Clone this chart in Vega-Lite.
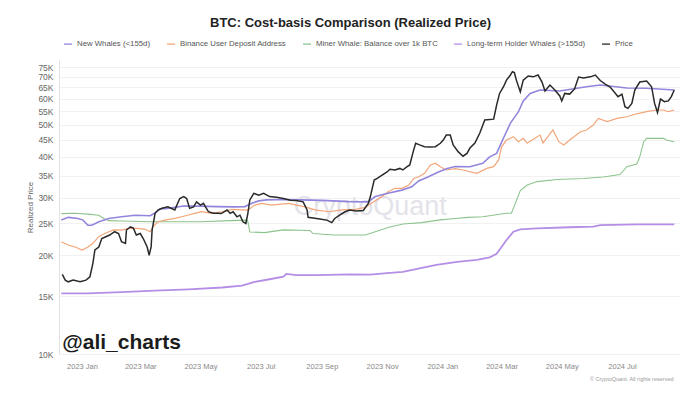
{
  "$schema": "https://vega.github.io/schema/vega-lite/v6.json",
  "width": 621,
  "height": 294,
  "autosize": {"type": "none"},
  "padding": {"left": 59, "top": 60, "right": 19, "bottom": 44},
  "background": "white",
  "title": {"text": "BTC: Cost-basis Comparison (Realized Price)", "anchor": "middle", "dx": -19, "fontSize": 13, "fontWeight": "bold", "color": "#222222", "offset": 9},
  "config": {
    "font": "Liberation Sans",
    "view": {"stroke": null},
    "legend": {"orient": "none", "legendX": 4, "legendY": -21, "direction": "horizontal", "symbolType": "stroke", "symbolStrokeWidth": 1.3, "symbolSize": 64, "labelFontSize": 7.8, "labelColor": "#555555", "columnPadding": 13, "labelOffset": 4}
  },
  "datasets": {
    "price": [
      {"date":"2022-12-12","value":17500},{"date":"2022-12-15","value":16800},{"date":"2022-12-18","value":16600},{"date":"2022-12-23","value":16800},{"date":"2022-12-30","value":16600},
      {"date":"2023-01-05","value":16800},{"date":"2023-01-09","value":17200},{"date":"2023-01-12","value":18900},{"date":"2023-01-14","value":20750},{"date":"2023-01-18","value":21200},
      {"date":"2023-01-21","value":22500},{"date":"2023-01-24","value":22700},{"date":"2023-01-29","value":23050},{"date":"2023-02-03","value":23600},{"date":"2023-02-07","value":23300},
      {"date":"2023-02-10","value":22000},{"date":"2023-02-14","value":21750},{"date":"2023-02-15","value":23880},{"date":"2023-02-19","value":24400},{"date":"2023-02-22","value":24200},
      {"date":"2023-02-25","value":23050},{"date":"2023-03-01","value":23300},{"date":"2023-03-04","value":22500},{"date":"2023-03-08","value":21200},{"date":"2023-03-10","value":20000},
      {"date":"2023-03-12","value":21200},{"date":"2023-03-13","value":23880},{"date":"2023-03-16","value":26850},{"date":"2023-03-19","value":27480},{"date":"2023-03-23","value":27810},
      {"date":"2023-03-29","value":28100},{"date":"2023-04-05","value":27500},{"date":"2023-04-10","value":29800},{"date":"2023-04-14","value":30200},{"date":"2023-04-17","value":29800},
      {"date":"2023-04-20","value":27800},{"date":"2023-04-24","value":28100},{"date":"2023-04-27","value":29100},{"date":"2023-05-01","value":28450},{"date":"2023-05-04","value":28800},
      {"date":"2023-05-09","value":27150},{"date":"2023-05-14","value":26850},{"date":"2023-05-19","value":26850},{"date":"2023-05-22","value":26800},{"date":"2023-05-28","value":27480},
      {"date":"2023-05-31","value":26850},{"date":"2023-06-03","value":27150},{"date":"2023-06-07","value":26200},{"date":"2023-06-10","value":26500},{"date":"2023-06-13","value":25300},
      {"date":"2023-06-16","value":25000},{"date":"2023-06-18","value":26850},{"date":"2023-06-20","value":29500},{"date":"2023-06-24","value":30900},{"date":"2023-06-29","value":30500},
      {"date":"2023-07-04","value":30900},{"date":"2023-07-10","value":30200},{"date":"2023-07-17","value":30050},{"date":"2023-07-24","value":29800},{"date":"2023-07-31","value":29450},
      {"date":"2023-08-06","value":29400},{"date":"2023-08-13","value":29100},{"date":"2023-08-17","value":27500},{"date":"2023-08-18","value":26100},{"date":"2023-08-23","value":26000},
      {"date":"2023-08-30","value":25800},{"date":"2023-09-06","value":25600},{"date":"2023-09-11","value":25150},{"date":"2023-09-14","value":25900},{"date":"2023-09-19","value":26500},
      {"date":"2023-09-24","value":27100},{"date":"2023-09-29","value":27480},{"date":"2023-10-06","value":27300},{"date":"2023-10-13","value":27400},{"date":"2023-10-18","value":28800},
      {"date":"2023-10-20","value":30100},{"date":"2023-10-22","value":32000},{"date":"2023-10-24","value":33900},{"date":"2023-10-27","value":34300},{"date":"2023-11-01","value":35100},
      {"date":"2023-11-06","value":35900},{"date":"2023-11-09","value":36600},{"date":"2023-11-14","value":36400},{"date":"2023-11-19","value":36800},{"date":"2023-11-22","value":36400},
      {"date":"2023-11-26","value":37200},{"date":"2023-11-29","value":37700},{"date":"2023-12-03","value":41900},{"date":"2023-12-05","value":43900},{"date":"2023-12-09","value":43400},
      {"date":"2023-12-14","value":42850},{"date":"2023-12-19","value":42750},{"date":"2023-12-25","value":42850},{"date":"2023-12-30","value":43900},{"date":"2024-01-02","value":44900},
      {"date":"2024-01-05","value":46500},{"date":"2024-01-09","value":46500},{"date":"2024-01-12","value":43400},{"date":"2024-01-17","value":41400},{"date":"2024-01-22","value":40100},
      {"date":"2024-01-26","value":40900},{"date":"2024-01-29","value":42450},{"date":"2024-02-03","value":44000},{"date":"2024-02-08","value":47200},{"date":"2024-02-13","value":51700},
      {"date":"2024-02-22","value":52000},{"date":"2024-02-25","value":57400},{"date":"2024-02-28","value":62300},{"date":"2024-03-03","value":65300},{"date":"2024-03-06","value":68400},
      {"date":"2024-03-10","value":70900},{"date":"2024-03-12","value":72550},{"date":"2024-03-14","value":72100},{"date":"2024-03-16","value":68400},{"date":"2024-03-20","value":63000},
      {"date":"2024-03-23","value":68400},{"date":"2024-03-28","value":70400},{"date":"2024-04-02","value":70000},{"date":"2024-04-07","value":70900},{"date":"2024-04-11","value":67500},
      {"date":"2024-04-14","value":63400},{"date":"2024-04-19","value":66100},{"date":"2024-04-24","value":63800},{"date":"2024-04-29","value":61200},{"date":"2024-05-01","value":59100},
      {"date":"2024-05-04","value":62300},{"date":"2024-05-09","value":62000},{"date":"2024-05-14","value":64300},{"date":"2024-05-18","value":69900},{"date":"2024-05-23","value":69400},
      {"date":"2024-05-30","value":70000},{"date":"2024-06-04","value":70900},{"date":"2024-06-09","value":68200},{"date":"2024-06-14","value":66550},{"date":"2024-06-19","value":65150},
      {"date":"2024-06-24","value":62500},{"date":"2024-06-27","value":60900},{"date":"2024-07-01","value":62000},{"date":"2024-07-04","value":56750},{"date":"2024-07-07","value":56100},
      {"date":"2024-07-11","value":58100},{"date":"2024-07-14","value":63800},{"date":"2024-07-19","value":67500},{"date":"2024-07-26","value":68000},{"date":"2024-07-31","value":65300},
      {"date":"2024-08-03","value":58200},{"date":"2024-08-06","value":54500},{"date":"2024-08-09","value":59900},{"date":"2024-08-13","value":58800},{"date":"2024-08-17","value":59100},
      {"date":"2024-08-20","value":60900},{"date":"2024-08-23","value":63800}
    ],
    "newWhales": [
      {"date":"2022-12-11","value":25600},{"date":"2022-12-18","value":26100},{"date":"2022-12-28","value":25900},{"date":"2023-01-02","value":25600},{"date":"2023-01-07","value":24700},
      {"date":"2023-01-11","value":24700},{"date":"2023-01-18","value":25300},{"date":"2023-01-28","value":25900},{"date":"2023-02-10","value":26200},{"date":"2023-02-24","value":26500},
      {"date":"2023-03-11","value":26400},{"date":"2023-03-16","value":26900},{"date":"2023-03-21","value":27700},{"date":"2023-03-29","value":27800},{"date":"2023-04-14","value":28250},
      {"date":"2023-05-01","value":28250},{"date":"2023-05-17","value":28150},{"date":"2023-06-05","value":28100},{"date":"2023-06-15","value":28150},{"date":"2023-06-22","value":28800},
      {"date":"2023-06-29","value":29300},{"date":"2023-07-07","value":29500},{"date":"2023-07-24","value":29600},{"date":"2023-08-10","value":29500},{"date":"2023-09-01","value":29400},
      {"date":"2023-09-29","value":29150},{"date":"2023-10-18","value":29100},{"date":"2023-10-25","value":30200},{"date":"2023-11-07","value":30900},{"date":"2023-11-21","value":31600},
      {"date":"2023-12-01","value":32350},{"date":"2023-12-08","value":33700},{"date":"2023-12-18","value":34700},{"date":"2023-12-28","value":35900},{"date":"2024-01-06","value":36800},
      {"date":"2024-01-14","value":37300},{"date":"2024-01-29","value":37250},{"date":"2024-02-11","value":38150},{"date":"2024-02-18","value":39900},{"date":"2024-02-25","value":40900},
      {"date":"2024-03-03","value":45550},{"date":"2024-03-10","value":50600},{"date":"2024-03-18","value":54700},{"date":"2024-03-23","value":59100},{"date":"2024-03-30","value":62300},
      {"date":"2024-04-09","value":63800},{"date":"2024-04-29","value":63400},{"date":"2024-05-26","value":65300},{"date":"2024-06-09","value":66100},{"date":"2024-07-06","value":64700},
      {"date":"2024-07-26","value":64600},{"date":"2024-08-23","value":63800}
    ],
    "binance": [
      {"date":"2022-12-11","value":22000},{"date":"2022-12-18","value":21500},{"date":"2022-12-25","value":21200},{"date":"2023-01-01","value":20750},{"date":"2023-01-07","value":21200},
      {"date":"2023-01-12","value":21750},{"date":"2023-01-18","value":22800},{"date":"2023-01-24","value":23300},{"date":"2023-02-02","value":23900},{"date":"2023-02-10","value":23850},
      {"date":"2023-02-17","value":24150},{"date":"2023-02-27","value":24150},{"date":"2023-03-06","value":24000},{"date":"2023-03-11","value":23600},{"date":"2023-03-14","value":24450},
      {"date":"2023-03-19","value":25300},{"date":"2023-03-26","value":25600},{"date":"2023-04-05","value":25900},{"date":"2023-04-15","value":26350},{"date":"2023-04-25","value":26850},
      {"date":"2023-05-02","value":27150},{"date":"2023-05-12","value":26850},{"date":"2023-05-23","value":27150},{"date":"2023-06-02","value":27600},{"date":"2023-06-12","value":27500},
      {"date":"2023-06-18","value":27450},{"date":"2023-06-25","value":28450},{"date":"2023-07-02","value":28800},{"date":"2023-07-12","value":28450},{"date":"2023-07-29","value":28800},
      {"date":"2023-08-15","value":28100},{"date":"2023-08-25","value":27500},{"date":"2023-09-08","value":27150},{"date":"2023-09-21","value":27500},{"date":"2023-10-05","value":27600},
      {"date":"2023-10-15","value":28000},{"date":"2023-10-21","value":28800},{"date":"2023-11-01","value":30200},{"date":"2023-11-07","value":31250},{"date":"2023-11-14","value":32000},
      {"date":"2023-11-21","value":32000},{"date":"2023-11-28","value":32750},{"date":"2023-12-03","value":34300},{"date":"2023-12-08","value":34700},{"date":"2023-12-14","value":35550},
      {"date":"2023-12-20","value":37700},{"date":"2023-12-25","value":38150},{"date":"2023-12-30","value":37250},{"date":"2024-01-05","value":36400},{"date":"2024-01-14","value":36750},
      {"date":"2024-01-22","value":36400},{"date":"2024-02-05","value":35550},{"date":"2024-02-15","value":36800},{"date":"2024-02-22","value":37250},{"date":"2024-02-27","value":39000},
      {"date":"2024-03-01","value":42750},{"date":"2024-03-06","value":44900},{"date":"2024-03-13","value":46000},{"date":"2024-03-18","value":44400},{"date":"2024-03-23","value":45450},
      {"date":"2024-03-27","value":43900},{"date":"2024-04-01","value":44900},{"date":"2024-04-09","value":46500},{"date":"2024-04-12","value":44000},{"date":"2024-04-17","value":46000},
      {"date":"2024-04-22","value":48200},{"date":"2024-04-28","value":44400},{"date":"2024-05-03","value":43400},{"date":"2024-05-09","value":44900},{"date":"2024-05-20","value":47600},
      {"date":"2024-05-26","value":48200},{"date":"2024-06-02","value":49900},{"date":"2024-06-07","value":52300},{"date":"2024-06-16","value":51100},{"date":"2024-06-26","value":52300},
      {"date":"2024-07-06","value":52900},{"date":"2024-07-16","value":54000},{"date":"2024-07-26","value":54800},{"date":"2024-08-05","value":55450},{"date":"2024-08-12","value":55450},
      {"date":"2024-08-17","value":54800},{"date":"2024-08-23","value":55450}
    ],
    "miner": [
      {"date":"2022-12-11","value":26800},{"date":"2022-12-25","value":26850},{"date":"2023-01-07","value":26700},{"date":"2023-01-18","value":26500},{"date":"2023-01-23","value":25900},
      {"date":"2023-01-28","value":25500},{"date":"2023-02-10","value":25450},{"date":"2023-03-11","value":25300},{"date":"2023-05-01","value":25300},{"date":"2023-05-31","value":25500},
      {"date":"2023-06-17","value":25600},{"date":"2023-06-18","value":25350},{"date":"2023-06-20","value":23550},{"date":"2023-07-05","value":23450},{"date":"2023-07-24","value":23900},
      {"date":"2023-08-20","value":23800},{"date":"2023-08-23","value":23300},{"date":"2023-09-13","value":23050},{"date":"2023-10-15","value":23050},{"date":"2023-10-25","value":23600},
      {"date":"2023-11-07","value":24300},{"date":"2023-11-22","value":24900},{"date":"2023-12-11","value":25150},{"date":"2023-12-28","value":25600},{"date":"2024-01-14","value":25900},
      {"date":"2024-01-27","value":26100},{"date":"2024-02-11","value":26200},{"date":"2024-03-06","value":26850},{"date":"2024-03-11","value":26850},{"date":"2024-03-15","value":28800},
      {"date":"2024-03-20","value":31500},{"date":"2024-03-27","value":32750},{"date":"2024-04-06","value":33550},{"date":"2024-04-26","value":34050},{"date":"2024-05-23","value":34300},
      {"date":"2024-06-12","value":34650},{"date":"2024-06-29","value":35250},{"date":"2024-07-06","value":37250},{"date":"2024-07-16","value":37950},{"date":"2024-07-19","value":39900},
      {"date":"2024-07-23","value":44400},{"date":"2024-07-26","value":45450},{"date":"2024-08-12","value":45450},{"date":"2024-08-15","value":44900},{"date":"2024-08-23","value":44400}
    ],
    "lth": [
      {"date":"2022-12-11","value":15300},{"date":"2023-01-07","value":15300},{"date":"2023-02-10","value":15450},{"date":"2023-03-16","value":15600},{"date":"2023-04-19","value":15750},
      {"date":"2023-05-23","value":15950},{"date":"2023-06-12","value":16150},{"date":"2023-06-25","value":16600},{"date":"2023-07-10","value":16900},{"date":"2023-07-24","value":17200},
      {"date":"2023-07-27","value":17550},{"date":"2023-08-06","value":17400},{"date":"2023-08-27","value":17400},{"date":"2023-09-29","value":17500},{"date":"2023-10-20","value":17450},
      {"date":"2023-11-06","value":17650},{"date":"2023-11-22","value":17800},{"date":"2023-12-09","value":18250},{"date":"2023-12-26","value":18700},{"date":"2024-01-16","value":19100},
      {"date":"2024-02-05","value":19350},{"date":"2024-02-18","value":19700},{"date":"2024-02-25","value":20200},{"date":"2024-03-01","value":21200},{"date":"2024-03-06","value":22250},
      {"date":"2024-03-13","value":23600},{"date":"2024-03-20","value":24000},{"date":"2024-04-06","value":24150},{"date":"2024-05-09","value":24350},{"date":"2024-06-02","value":24450},
      {"date":"2024-06-09","value":24700},{"date":"2024-07-16","value":24850},{"date":"2024-08-23","value":24850}
    ]
  },
  "layer": [
    {
      "data": {"values": [{}]},
      "mark": {"type": "text", "text": "CryptoQuant", "fontSize": 27, "color": "#e3e3e9", "align": "center", "baseline": "middle"},
      "encoding": {
        "x": {"datum": {"year": 2023, "month": 10, "date": 20}, "type": "temporal", "scale": {"domain": [{"year": 2022, "month": 12, "date": 8, "hours": 16}, {"year": 2024, "month": 8, "date": 28, "hours": 19}]}},
        "y": {"datum": 28070, "type": "quantitative", "scale": {"type": "log", "domain": [10000, 78780]}}
      }
    },
    {
      "data": {"name": "lth"},
      "mark": {"type": "line", "strokeWidth": 1.8},
      "encoding": {
        "x": {
          "field": "date", "type": "temporal",
          "scale": {"domain": [{"year": 2022, "month": 12, "date": 8, "hours": 16}, {"year": 2024, "month": 8, "date": 28, "hours": 19}]},
          "axis": {
            "values": [{"year":2023,"month":1,"date":1},{"year":2023,"month":3,"date":1},{"year":2023,"month":5,"date":1},{"year":2023,"month":7,"date":1},{"year":2023,"month":9,"date":1},{"year":2023,"month":11,"date":1},{"year":2024,"month":1,"date":1},{"year":2024,"month":3,"date":1},{"year":2024,"month":5,"date":1},{"year":2024,"month":7,"date":1}],
            "format": "%Y %b", "labelFontSize": 7.5, "labelColor": "#888888", "ticks": false, "domain": false, "grid": false,
            "labelPadding": 8, "labelFlush": false, "labelOverlap": false,
            "title": "© CryptoQuant. All rights reserved", "titleFontSize": 5.5, "titleColor": "#999999", "titleFontWeight": "normal",
            "titleX": 614, "titleY": 24, "titleAlign": "right", "titleBaseline": "middle", "titleAnchor": "end"
          }
        },
        "y": {
          "field": "value", "type": "quantitative",
          "scale": {"type": "log", "domain": [10000, 78780]},
          "axis": {
            "values": [10000,15000,20000,25000,30000,35000,40000,45000,50000,55000,60000,65000,70000,75000],
            "labelExpr": "datum.value/1000 + 'K'", "labelFontSize": 8.5, "labelColor": "#666666", "ticks": false,
            "domain": true, "domainColor": "#e2e2e2", "grid": true, "gridColor": "#f1f1f1", "labelPadding": 6, "labelOverlap": false,
            "title": "Realized Price", "titleFontSize": 8, "titleFontWeight": "normal", "titleColor": "#666666",
            "titleX": -29, "titleY": 147, "titleAngle": -90, "titleAlign": "center", "titleBaseline": "middle"
          }
        },
        "color": {"datum": "Long-term Holder Whales (>155d)", "type": "nominal", "scale": {"domain": ["New Whales (<155d)", "Binance User Deposit Address", "Miner Whale: Balance over 1k BTC", "Long-term Holder Whales (>155d)", "Price"], "range": ["#9286dc", "#f2a679", "#8dc48d", "#b48ee6", "#2a2a2a"]}, "legend": {"title": null}}
      }
    },
    {
      "data": {"name": "miner"},
      "mark": {"type": "line", "strokeWidth": 1.1},
      "encoding": {
        "x": {"field": "date", "type": "temporal", "scale": {"domain": [{"year": 2022, "month": 12, "date": 8, "hours": 16}, {"year": 2024, "month": 8, "date": 28, "hours": 19}]}},
        "y": {"field": "value", "type": "quantitative", "scale": {"type": "log", "domain": [10000, 78780]}},
        "color": {"datum": "Miner Whale: Balance over 1k BTC", "type": "nominal", "legend": {"title": null}}
      }
    },
    {
      "data": {"name": "binance"},
      "mark": {"type": "line", "strokeWidth": 1.2},
      "encoding": {
        "x": {"field": "date", "type": "temporal", "scale": {"domain": [{"year": 2022, "month": 12, "date": 8, "hours": 16}, {"year": 2024, "month": 8, "date": 28, "hours": 19}]}},
        "y": {"field": "value", "type": "quantitative", "scale": {"type": "log", "domain": [10000, 78780]}},
        "color": {"datum": "Binance User Deposit Address", "type": "nominal", "legend": {"title": null}}
      }
    },
    {
      "data": {"name": "newWhales"},
      "mark": {"type": "line", "strokeWidth": 1.6},
      "encoding": {
        "x": {"field": "date", "type": "temporal", "scale": {"domain": [{"year": 2022, "month": 12, "date": 8, "hours": 16}, {"year": 2024, "month": 8, "date": 28, "hours": 19}]}},
        "y": {"field": "value", "type": "quantitative", "scale": {"type": "log", "domain": [10000, 78780]}},
        "color": {"datum": "New Whales (<155d)", "type": "nominal", "legend": {"title": null}}
      }
    },
    {
      "data": {"name": "price"},
      "mark": {"type": "line", "strokeWidth": 1.5},
      "encoding": {
        "x": {"field": "date", "type": "temporal", "scale": {"domain": [{"year": 2022, "month": 12, "date": 8, "hours": 16}, {"year": 2024, "month": 8, "date": 28, "hours": 19}]}},
        "y": {"field": "value", "type": "quantitative", "scale": {"type": "log", "domain": [10000, 78780]}},
        "color": {"datum": "Price", "type": "nominal", "legend": {"title": null}}
      }
    },
    {
      "data": {"values": [{}]},
      "mark": {"type": "text", "text": "@ali_charts", "fontSize": 21, "fontWeight": "bold", "color": "#1c1c1c", "align": "left", "baseline": "alphabetic"},
      "encoding": {
        "x": {"datum": {"year": 2022, "month": 12, "date": 12}, "type": "temporal", "scale": {"domain": [{"year": 2022, "month": 12, "date": 8, "hours": 16}, {"year": 2024, "month": 8, "date": 28, "hours": 19}]}},
        "y": {"datum": 10321, "type": "quantitative", "scale": {"type": "log", "domain": [10000, 78780]}}
      }
    }
  ]
}
